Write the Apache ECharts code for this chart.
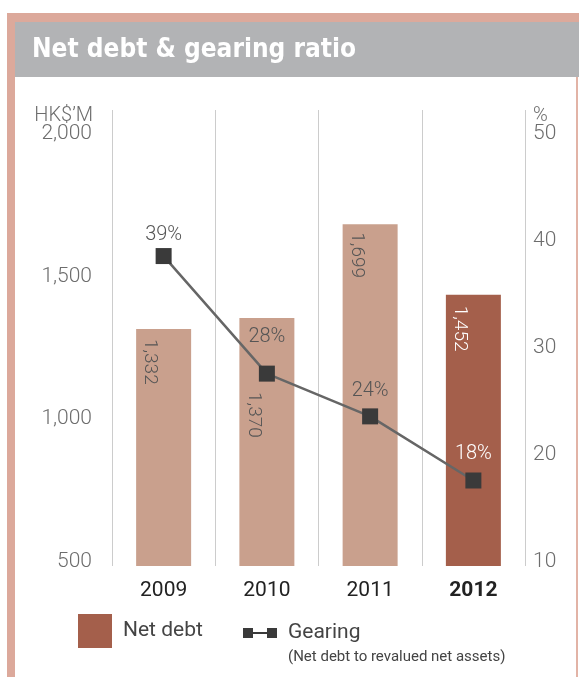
<!DOCTYPE html>
<html>
<head>
<meta charset="utf-8">
<script src="https://cdn.jsdelivr.net/npm/echarts@6/dist/echarts.min.js"></script>
<style>
html,body{margin:0;padding:0;background:#fff;}
#chart{width:579px;height:677px;}
</style>
</head>
<body>
<div id="chart"></div>
<script>
const categories = ['2009', '2010', '2011', '2012'];
const netDebt = [1332, 1370, 1699, 1452];
const gearing = [39, 28, 24, 18];
const leftTicks = [500, 1000, 1500, 2000];
const rightTicks = [10, 20, 30, 40, 50];

const FONT = 'Roboto, "Liberation Sans", sans-serif';
const LIGHT = '#c9a08d';
const DARK = '#a45f4b';
const fmt = v => v.toLocaleString('en-US');

const barLabelTop = [10, 74, 8, 11];
const gearLabelDist = [3, 19, 7, 9];

const chart = echarts.init(document.getElementById('chart'));
chart.setOption({
  animation: false,
  backgroundColor: '#fff',
  grid: { left: 112, right: 54, top: 110, bottom: 111 },
  graphic: [
    { type: 'rect', shape: { x: 7, y: 13, width: 572, height: 9 }, style: { fill: '#dca99b' } },
    { type: 'rect', shape: { x: 7, y: 13, width: 8, height: 664 }, style: { fill: '#dca99b' } },
    { type: 'rect', shape: { x: 576, y: 22, width: 2, height: 655 }, style: { fill: '#e2b3a6' } },
    { type: 'rect', shape: { x: 15, y: 22, width: 564, height: 55 }, style: { fill: '#b2b3b5' } },
    { type: 'text', x: 32, y: 50, style: { text: 'Net debt & gearing ratio', fill: '#fff', font: 'bold 26px "Liberation Sans Narrow", "DejaVu Sans Condensed", sans-serif', textVerticalAlign: 'middle' } },
    { type: 'text', x: 93, y: 116, style: { text: 'HK$\u2019M', fill: '#6d6d6d', font: '300 20px ' + FONT, textAlign: 'right', textVerticalAlign: 'middle' } },
    { type: 'text', x: 533, y: 116, style: { text: '%', fill: '#6d6d6d', font: '300 20px ' + FONT, textAlign: 'left', textVerticalAlign: 'middle' } },
    { type: 'text', x: 288, y: 657, style: { text: '(Net debt to revalued net assets)', fill: '#444', font: '15px ' + FONT, textAlign: 'left', textVerticalAlign: 'middle' } }
  ],
  legend: [
    {
      data: ['Net debt'], left: 78, top: 614, itemWidth: 34, itemHeight: 34, padding: 0,
      icon: 'rect',
      textStyle: { fontSize: 21, color: '#444', fontFamily: FONT, padding: [0, 0, 0, 6] }
    },
    {
      data: ['Gearing'], left: 243, top: 621, itemWidth: 34, itemHeight: 10, padding: 0,
      icon: 'path://M0,0h10v10h-10z M10,4h14v2h-14z M24,0h10v10h-10z',
      itemStyle: { color: '#3a3a3a' },
      textStyle: { fontSize: 21, color: '#444', fontFamily: FONT, padding: [0, 0, 0, 6], lineHeight: 24 }
    }
  ],
  xAxis: {
    type: 'category',
    data: categories.map(c => c === '2012' ? { value: c, textStyle: { fontWeight: 'bold' } } : c),
    axisLine: { show: false },
    axisTick: { show: false },
    splitLine: { show: true, lineStyle: { color: '#cccccc', width: 1 } },
    axisLabel: { fontSize: 21, color: '#222', fontFamily: FONT, margin: 14 }
  },
  yAxis: [
    {
      type: 'value', min: 500, max: 2100, interval: 500,
      axisLine: { show: false }, axisTick: { show: false }, splitLine: { show: false },
      axisLabel: {
        fontSize: 21, color: '#6d6d6d', fontFamily: FONT, fontWeight: 300, margin: 20,
        verticalAlign: 'bottom', lineHeight: 9,
        formatter: v => leftTicks.includes(v) ? fmt(v) : ''
      }
    },
    {
      type: 'value', min: 10, max: 10 + 40 * 1600 / 1500, interval: 10,
      axisLine: { show: false }, axisTick: { show: false }, splitLine: { show: false },
      axisLabel: {
        fontSize: 21, color: '#6d6d6d', fontFamily: FONT, fontWeight: 300, margin: 8,
        verticalAlign: 'bottom', lineHeight: 9,
        formatter: v => rightTicks.includes(v) ? String(v) : ''
      }
    }
  ],
  series: [
    {
      name: 'Net debt', type: 'bar', barWidth: 55,
      itemStyle: { color: DARK },
      data: netDebt.map((v, i) => ({
        value: v,
        itemStyle: { color: categories[i] === '2012' ? DARK : LIGHT },
        label: {
          show: true, position: [14, barLabelTop[i]], rotate: -90,
          align: 'left', verticalAlign: 'middle',
          fontSize: 19, fontFamily: FONT, fontWeight: 300,
          color: categories[i] === '2012' ? '#fff' : '#555',
          formatter: p => fmt(p.value)
        }
      }))
    },
    {
      name: 'Gearing', type: 'line', yAxisIndex: 1,
      symbol: 'rect', symbolSize: 16,
      itemStyle: { color: '#3a3a3a' },
      lineStyle: { color: '#666', width: 2.5 },
      z: 5,
      data: gearing.map((v, i) => ({
        value: v,
        label: {
          show: true, position: 'top', distance: gearLabelDist[i],
          fontSize: 20, fontFamily: FONT, fontWeight: 300,
          color: categories[i] === '2012' ? '#fff' : '#555',
          formatter: p => p.value + '%'
        }
      }))
    }
  ]
});
</script>
</body>
</html>
